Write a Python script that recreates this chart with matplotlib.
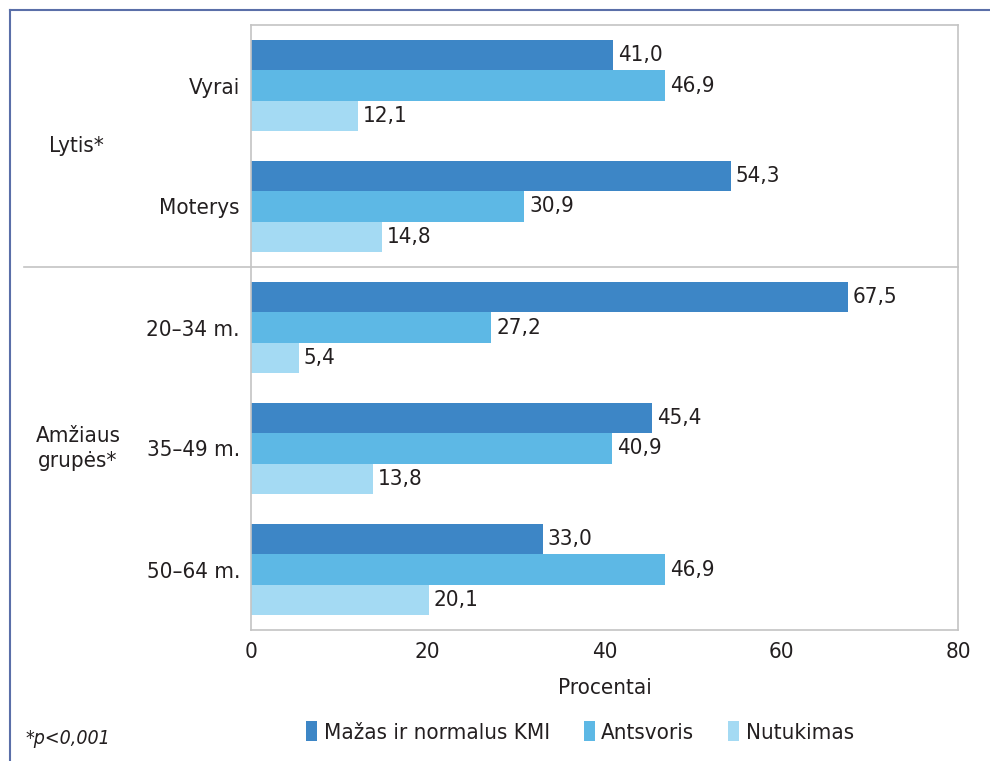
import matplotlib.pyplot as plt
import matplotlib.transforms as mtransforms
from matplotlib.lines import Line2D
import numpy as np

plt.rcParams['font.family'] = ['DejaVu Sans']
plt.rcParams['font.stretch'] = 'condensed'

categories = ['Vyrai', 'Moterys', '20–34 m.', '35–49 m.', '50–64 m.']
normal_kmi = [41.0, 54.3, 67.5, 45.4, 33.0]
antsvoris = [46.9, 30.9, 27.2, 40.9, 46.9]
nutukimas = [12.1, 14.8, 5.4, 13.8, 20.1]
series_names = ['Mažas ir normalus KMI', 'Antsvoris', 'Nutukimas']
colors = ['#3d86c6', '#5db8e5', '#a4daf3']
xticks = [0, 20, 40, 60, 80]

W, H = 990, 761
fig = plt.figure(figsize=(W / 100, H / 100), dpi=100)
ax = fig.add_axes([251 / W, 1 - 630 / H, (958 - 251) / W, (630 - 25) / H])

fs = 16
txt = '#231f20'
ind = np.arange(len(categories))
h = 0.248

for k, (vals, name, col) in enumerate(zip([normal_kmi, antsvoris, nutukimas],
                                          series_names, colors)):
    pos = ind + (k - 1) * h
    ax.barh(pos, vals, height=h, color=col, label=name)
    for y, v in zip(pos, vals):
        ax.text(v + 0.55, y, '{:.1f}'.format(v).replace('.', ','),
                va='center', ha='left', fontsize=fs, color=txt)

ax.set_xlim(0, 80)
ax.set_ylim(len(categories) - 0.5, -0.5)
ax.set_xticks(xticks)
ax.set_yticks(ind)
ax.set_yticklabels(categories)
ax.tick_params(axis='both', length=0, labelsize=fs, labelcolor=txt)
ax.tick_params(axis='y', pad=8)
ax.tick_params(axis='x', pad=9)
ax.set_xlabel('Procentai', fontsize=fs, color=txt, labelpad=11)
for sp in ax.spines.values():
    sp.set_color('#c4c4c4')
    sp.set_linewidth(1.2)

# group labels and the divider between the groups
tr = mtransforms.blended_transform_factory(fig.transFigure, ax.transData)
fig.text(76 / W, 0.5, 'Lytis*', transform=tr, ha='center', va='center',
         fontsize=fs, color=txt)
fig.text(78 / W, 3.0, 'Amžiaus\ngrupės*', transform=tr, ha='center',
         va='center', fontsize=fs, color=txt, linespacing=1.3)
fig.add_artist(Line2D([24 / W, 958 / W], [1.5, 1.5], transform=tr,
                      color='#c4c4c4', lw=1.2))

# outer frame
frame = '#5a6fa8'
fig.add_artist(Line2D([9.5 / W, 9.5 / W], [0, 1 - 10 / H], color=frame, lw=1.5))
fig.add_artist(Line2D([9.5 / W, 1], [1 - 10 / H, 1 - 10 / H], color=frame, lw=1.5))

fig.legend(loc='center', bbox_to_anchor=(580 / W, 1 - 732 / H), ncol=3,
           frameon=False, fontsize=fs, handlelength=0.5, handleheight=1.0,
           handletextpad=0.3, columnspacing=1.5, labelcolor=txt)

fig.text(25 / W, 1 - 738 / H, '*p<0,001', ha='left', va='center',
         fontsize=fs - 2, style='italic', color=txt)

fig.savefig('out.png', dpi=100)
